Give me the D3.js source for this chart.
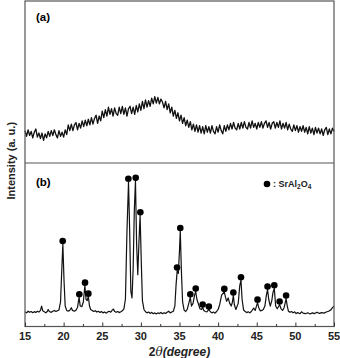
<!DOCTYPE html>
<html>
<head>
<meta charset="utf-8">
<script src="https://cdn.jsdelivr.net/npm/d3@7"></script>
<style>
  body { margin: 0; background: #fff; }
  svg { display: block; font-family: 'Liberation Sans', Arial, sans-serif; }
</style>
</head>
<body>
<div id="app"></div>
<script>
// panel (a): amorphous pattern, 15..55 deg, step 0.2
const angleStart = 15;
const angleStep = 0.2;
const amorphous = [
  40,33,41,34,39,31,38,42,32,37,
  30,37,28,36,31,39,33,40,34,41,
  35,31,40,33,38,32,41,35,47,40,
  48,40,47,50,41,49,43,52,45,53,
  46,54,47,56,48,55,59,49,58,52,
  64,56,66,58,69,60,67,58,68,61,
  59,69,61,70,60,68,58,67,70,61,
  69,60,71,63,73,65,76,67,78,69,
  77,70,80,73,82,74,81,73,79,75,
  68,76,66,73,62,69,58,65,55,62,
  52,59,49,56,46,53,44,51,41,48,
  39,47,38,46,37,45,36,46,38,45,
  37,46,39,36,45,38,47,40,36,46,
  39,47,41,49,42,50,43,41,49,42,
  50,43,51,44,42,50,43,52,44,49,
  42,50,44,51,43,49,52,44,50,42,
  49,51,43,50,44,52,42,49,43,50,
  41,48,42,39,47,40,46,38,45,39,
  46,38,44,36,45,37,43,35,44,37,
  43,36,42,34,41,44,35,42,36,43,
  39
];

// panel (b): crystallised pattern [2theta, intensity]
const crystalline = [
  [15.0,108],[15.2,100],[15.4,112],[15.6,104],[15.8,110],[16.0,101],[16.2,109],[16.4,103],
  [16.6,112],[16.8,106],[17.0,118],[17.15,150],[17.3,115],[17.5,108],[17.7,100],[17.9,112],
  [18.0,125],[18.15,110],[18.4,104],[18.6,112],[18.8,118],[19.0,110],[19.2,116],[19.4,122],
  [19.6,180],[19.75,400],[19.9,605],[20.05,340],[20.2,150],[20.4,118],[20.6,112],[20.8,120],
  [21.0,138],[21.15,118],[21.4,112],[21.6,120],[21.8,140],[22.0,215],[22.15,150],[22.35,145],
  [22.55,180],[22.75,300],[22.9,200],[23.05,190],[23.2,220],[23.35,150],[23.5,125],[23.7,118],
  [23.9,110],[24.1,116],[24.3,106],[24.5,112],[24.7,103],[24.9,110],[25.1,100],[25.3,107],
  [25.5,98],[25.7,106],[25.9,112],[26.1,105],[26.3,120],[26.45,128],[26.6,110],[26.8,104],
  [27.0,110],[27.2,102],[27.4,108],[27.6,115],[27.8,130],[28.0,200],[28.2,700],[28.4,1060],
  [28.55,700],[28.7,260],[28.85,210],[29.0,420],[29.15,850],[29.3,1070],[29.45,600],[29.6,380],
  [29.75,620],[29.9,815],[30.05,480],[30.2,190],[30.4,125],[30.6,108],[30.8,100],[31.0,106],
  [31.2,96],[31.4,104],[31.6,94],[31.8,100],[32.0,92],[32.2,100],[32.4,95],[32.6,103],
  [32.8,94],[33.0,101],[33.2,96],[33.4,104],[33.6,112],[33.8,100],[34.0,106],[34.2,112],
  [34.4,150],[34.55,300],[34.7,410],[34.85,390],[35.0,560],[35.1,700],[35.25,400],[35.4,180],
  [35.6,120],[35.8,110],[36.0,125],[36.2,170],[36.4,215],[36.55,150],[36.75,170],[36.95,230],
  [37.1,255],[37.25,200],[37.45,165],[37.65,130],[37.85,125],[38.0,140],[38.15,118],[38.35,110],
  [38.55,108],[38.7,118],[38.8,125],[39.0,108],[39.2,100],[39.4,106],[39.6,98],[39.8,110],
  [40.0,125],[40.2,160],[40.45,230],[40.8,255],[40.95,215],[41.1,185],[41.3,210],[41.5,170],
  [41.7,150],[41.85,180],[41.97,228],[42.1,160],[42.3,125],[42.6,170],[42.8,300],[42.96,340],
  [43.1,200],[43.3,120],[43.5,110],[43.7,102],[43.9,108],[44.1,100],[44.3,110],[44.6,135],
  [44.8,118],[45.1,175],[45.25,140],[45.45,115],[45.65,118],[45.85,125],[46.05,150],[46.25,230],
  [46.4,270],[46.55,200],[46.75,150],[46.95,190],[47.1,250],[47.27,280],[47.45,150],[47.65,130],
  [47.96,160],[48.15,130],[48.35,118],[48.55,140],[48.8,205],[48.95,150],[49.1,112],[49.3,104],
  [49.5,110],[49.7,100],[49.9,108],[50.1,95],[50.3,102],[50.6,94],[50.8,108],[51.0,98],
  [51.3,94],[51.6,101],[51.9,92],[52.2,100],[52.5,95],[52.8,105],[53.1,96],[53.4,102],
  [53.7,98],[54.0,106],[54.3,112],[54.6,122],[54.8,138],[55.0,150]
];

// SrAl2O4 reflections marked with dots [2theta, intensity]
const markers = [
  [19.88,627],[22.03,237],[22.77,322],[23.2,241],[28.38,1084],[29.33,1091],[29.93,838],
  [34.68,433],[35.1,723],[36.4,237],[37.1,278],[38.0,161],[38.8,146],[40.8,276],
  [41.97,249],[42.96,362],[45.1,197],[46.4,293],[47.27,303],[47.96,183],[48.8,227]
];

const majorTicks = [15, 20, 25, 30, 35, 40, 45, 50, 55];
const minorTicks = [17.5, 22.5, 27.5, 32.5, 37.5, 42.5, 47.5, 52.5];

const W = 340, H = 358;
const plotLeft = 25, plotRight = 334, plotTop = 1, plotMid = 163, plotBottom = 326.5;

const svg = d3.select('#app')
  .append('svg')
  .attr('width', W)
  .attr('height', H);

const x = d3.scaleLinear().domain([15, 55]).range([plotLeft, plotRight]);
const yA = d3.scaleLinear().domain([0, 200]).range([plotMid, plotTop]);
const yB = d3.scaleLinear().domain([0, 1200]).range([plotBottom, plotMid]);

// traces
const lineA = d3.line()
  .x((d, i) => x(angleStart + i * angleStep))
  .y((d) => yA(d));

svg.append('path')
  .datum(amorphous)
  .attr('d', lineA)
  .attr('fill', 'none')
  .attr('stroke', '#111')
  .attr('stroke-width', 1.3)
  .attr('stroke-linejoin', 'round');

const lineB = d3.line()
  .x((d) => x(d[0]))
  .y((d) => yB(d[1]));

svg.append('path')
  .datum(crystalline)
  .attr('d', lineB)
  .attr('fill', 'none')
  .attr('stroke', '#111')
  .attr('stroke-width', 1.2)
  .attr('stroke-linejoin', 'round');

svg.selectAll('circle.peak')
  .data(markers)
  .enter()
  .append('circle')
  .attr('class', 'peak')
  .attr('cx', (d) => x(d[0]))
  .attr('cy', (d) => yB(d[1]))
  .attr('r', 3.3)
  .attr('fill', '#000');

// frames
svg.append('rect')
  .attr('x', plotLeft)
  .attr('y', plotTop)
  .attr('width', plotRight - plotLeft)
  .attr('height', plotBottom - plotTop)
  .attr('fill', 'none')
  .attr('stroke', '#555')
  .attr('stroke-width', 1.2);

svg.append('line')
  .attr('x1', plotLeft).attr('x2', plotRight)
  .attr('y1', plotMid).attr('y2', plotMid)
  .attr('stroke', '#555')
  .attr('stroke-width', 1.2);

// bottom axis, ticks pointing inward
svg.append('g')
  .attr('transform', `translate(0,${plotBottom})`)
  .call(d3.axisTop(x).tickValues(majorTicks).tickSize(4).tickFormat(''))
  .call((g) => g.select('.domain').remove());

svg.append('g')
  .attr('transform', `translate(0,${plotBottom})`)
  .call(d3.axisTop(x).tickValues(minorTicks).tickSize(2.5).tickFormat(''))
  .call((g) => g.select('.domain').remove());

svg.selectAll('.tick line').attr('stroke', '#333');

svg.append('g')
  .selectAll('text')
  .data(majorTicks)
  .enter()
  .append('text')
  .attr('x', (d) => x(d))
  .attr('y', 339.5)
  .attr('text-anchor', 'middle')
  .attr('font-size', 11)
  .attr('font-weight', 'bold')
  .attr('fill', '#222')
  .text((d) => d);

// axis titles
const xt = svg.append('text')
  .attr('x', (plotLeft + plotRight) / 2)
  .attr('y', 356)
  .attr('text-anchor', 'middle')
  .attr('font-size', 12)
  .attr('font-weight', 'bold')
  .attr('fill', '#222');
xt.append('tspan').text('2');
xt.append('tspan').attr('font-style', 'italic').attr('font-family', 'DejaVu Serif').attr('font-weight', 'normal').text('θ');
xt.append('tspan').attr('font-style', 'italic').text('(degree)');

svg.append('text')
  .attr('transform', `translate(15,${(plotTop + plotBottom) / 2 - 3}) rotate(-90)`)
  .attr('text-anchor', 'middle')
  .attr('font-size', 11)
  .attr('font-weight', 'bold')
  .attr('fill', '#222')
  .text('Intensity (a. u.)');

// panel labels
svg.append('text')
  .attr('x', 36).attr('y', 21)
  .attr('font-size', 11.5).attr('font-weight', 'bold')
  .text('(a)');

svg.append('text')
  .attr('x', 36).attr('y', 186)
  .attr('font-size', 11.5).attr('font-weight', 'bold')
  .text('(b)');

// legend
svg.append('circle')
  .attr('cx', 267).attr('cy', 184)
  .attr('r', 3.3).attr('fill', '#000');

const lg = svg.append('text')
  .attr('x', 273).attr('y', 187)
  .attr('font-size', 9)
  .attr('font-weight', 'bold')
  .attr('fill', '#222');
lg.append('tspan').text(': SrAl');
lg.append('tspan').attr('font-size', 6.5).attr('dy', 1.5).text('2');
lg.append('tspan').attr('dy', -1.5).text('O');
lg.append('tspan').attr('font-size', 6.5).attr('dy', 1.5).text('4');
</script>
</body>
</html>
